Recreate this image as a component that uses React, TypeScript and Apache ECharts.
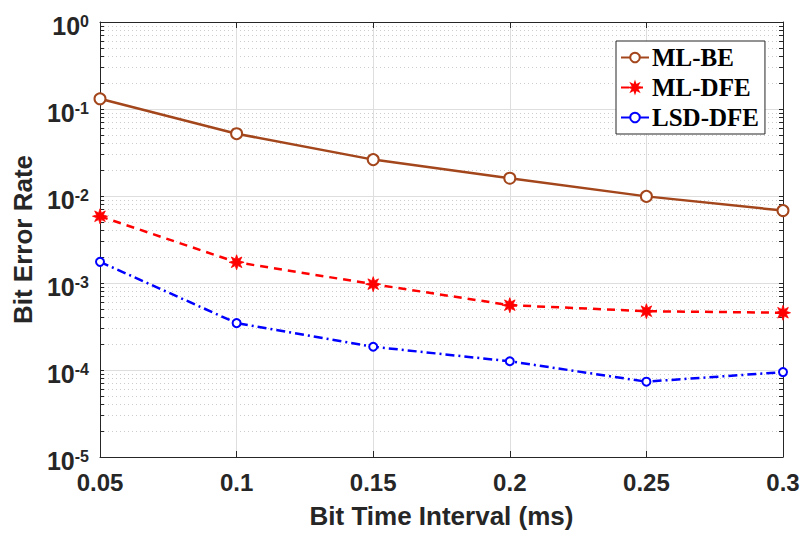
import React, { useEffect, useRef } from "react";
import * as echarts from "echarts";

const xValues = [0.05, 0.1, 0.15, 0.2, 0.25, 0.3];
const mlBE = [0.131, 0.052, 0.0262, 0.016, 0.0099, 0.0068];
const mlDFE = [0.00585, 0.00173, 0.00097, 0.000556, 0.000474, 0.000455];
const lsdDFE = [0.00175, 0.000346, 0.000185, 0.000126, 0.0000734, 0.0000946];

const seriesNames = ["ML-BE", "ML-DFE", "LSD-DFE"];
const majorTicks = [1e-5, 1e-4, 1e-3, 1e-2, 1e-1, 1];
const minorMultipliers = [2, 3, 4, 5, 6, 7, 8, 9];
const minorDecades = [1e-5, 1e-4, 1e-3, 1e-2, 1e-1];

const minorTicks: number[] = [];
minorDecades.forEach((d) => minorMultipliers.forEach((m) => minorTicks.push(Number((m * d).toPrecision(6)))));
const allTicks = majorTicks.concat(minorTicks);

function starPath(n: number, rOut: number, rIn: number): string {
  const pts: string[] = [];
  for (let i = 0; i < n * 2; i++) {
    const r = i % 2 === 0 ? rOut : rIn;
    const a = (Math.PI * i) / n - Math.PI / 2;
    pts.push(`${(r * Math.cos(a)).toFixed(2)} ${(r * Math.sin(a)).toFixed(2)}`);
  }
  return "path://M" + pts.join(" L") + " Z";
}

const AX = "#262626";
const SANS = "Liberation Sans, Arial, sans-serif";

export default function App() {
  const ref = useRef<HTMLDivElement>(null);
  useEffect(() => {
    if (!ref.current) return;
    const chart = echarts.init(ref.current, undefined, { renderer: "svg" });
    const option: any = {
      animation: false,
      backgroundColor: "#fff",
      grid: { left: 100, right: 23, top: 22, bottom: 81, outerBoundsMode: "none" },
      legend: {
        show: true,
        orient: "vertical",
        left: 616,
        top: 41,
        data: seriesNames,
        backgroundColor: "#fff",
        borderColor: AX,
        borderWidth: 1,
        borderRadius: 0,
        padding: [4, 6, 4, 4],
        itemWidth: 28,
        itemHeight: 12,
        itemGap: 5,
        textStyle: {
          fontFamily: "Liberation Serif, Times New Roman, serif",
          fontWeight: "bold",
          fontSize: 25,
          color: "#000",
          padding: [0, 0, 0, -2],
        },
      },
      xAxis: [
        {
          type: "value",
          position: "bottom",
          min: 0.05,
          max: 0.3,
          interval: 0.05,
          name: "Bit Time Interval (ms)",
          nameLocation: "middle",
          nameGap: 46,
          nameTextStyle: { fontFamily: SANS, fontWeight: "bold", fontSize: 26, color: AX },
          axisLine: { show: true, lineStyle: { color: AX, width: 1 } },
          axisTick: { show: true, inside: true, length: 6, lineStyle: { color: AX } },
          axisLabel: {
            show: true,
            margin: 13,
            fontFamily: SANS,
            fontWeight: "bold",
            fontSize: 24,
            color: AX,
            formatter: (v: number) => String(Number(v.toFixed(2))),
          },
          splitLine: { show: true, lineStyle: { color: "#dedede", width: 1, type: "solid" } },
        },
        {
          type: "value",
          position: "top",
          min: 0.05,
          max: 0.3,
          interval: 0.05,
          axisLine: { show: true, lineStyle: { color: AX, width: 1 } },
          axisTick: { show: true, inside: true, length: 6, lineStyle: { color: AX } },
          axisLabel: { show: false },
          splitLine: { show: false },
        },
      ],
      yAxis: [
        {
          type: "log",
          logBase: 10,
          position: "left",
          min: 1e-5,
          max: 1,
          name: "Bit Error Rate",
          nameLocation: "middle",
          nameGap: 62,
          nameRotate: 90,
          nameTextStyle: { fontFamily: SANS, fontWeight: "bold", fontSize: 26, color: AX },
          axisLine: { show: true, lineStyle: { color: AX, width: 1 } },
          axisTick: { show: true, inside: true, length: 4, customValues: allTicks, lineStyle: { color: AX } },
          axisLabel: {
            show: true,
            margin: 11,
            customValues: majorTicks,
            padding: [8, 0, 0, 0],
            formatter: (v: number) => {
              const e = Math.round(Math.log10(v));
              return `{b|10}{s|${e}}`;
            },
            rich: {
              b: {
                fontFamily: SANS,
                fontWeight: "bold",
                fontSize: 25,
                lineHeight: 25,
                color: AX,
                verticalAlign: "bottom",
              },
              s: {
                fontFamily: SANS,
                fontWeight: "bold",
                fontSize: 16,
                color: AX,
                lineHeight: 16,
                verticalAlign: "top",
                padding: [0, 0, 12, 0],
              },
            },
          },
          splitLine: { show: false },
        },
        {
          type: "log",
          logBase: 10,
          position: "right",
          min: 1e-5,
          max: 1,
          axisLine: { show: true, lineStyle: { color: AX, width: 1 } },
          axisTick: { show: true, inside: true, length: 4, customValues: allTicks, lineStyle: { color: AX } },
          axisLabel: { show: false },
          splitLine: { show: true, lineStyle: { color: "#cccccc", width: 1, type: [1, 3] } },
        },
        {
          type: "log",
          logBase: 10,
          position: "left",
          min: 1e-5,
          max: 1,
          axisLine: { show: false },
          axisTick: { show: false, customValues: majorTicks },
          axisLabel: { show: false },
          splitLine: { show: true, lineStyle: { color: "#dedede", width: 1, type: "solid" } },
        },
      ],
      series: [
        {
          name: seriesNames[0],
          type: "line",
          xAxisIndex: 0,
          yAxisIndex: 0,
          data: xValues.map((x, i) => [x, mlBE[i]]),
          color: "#A3461C",
          lineStyle: { color: "#A3461C", width: 2.5, type: "solid" },
          symbol: "emptyCircle",
          symbolSize: 11,
          itemStyle: { color: "#A3461C", borderColor: "#A3461C", borderWidth: 2 },
          z: 5,
        },
        {
          name: seriesNames[1],
          type: "line",
          xAxisIndex: 0,
          yAxisIndex: 0,
          data: xValues.map((x, i) => [x, mlDFE[i]]),
          color: "#FF0000",
          lineStyle: { color: "#FF0000", width: 2.5, type: [8, 6] },
          symbol: starPath(8, 10, 4.8),
          symbolSize: 15,
          symbolKeepAspect: true,
          itemStyle: { color: "#FF0000", borderColor: "#FF0000", borderWidth: 0.8 },
          z: 4,
        },
        {
          name: seriesNames[2],
          type: "line",
          xAxisIndex: 0,
          yAxisIndex: 0,
          data: xValues.map((x, i) => [x, lsdDFE[i]]),
          color: "#0000FF",
          lineStyle: { color: "#0000FF", width: 2.5, type: [9, 4, 2, 4] },
          symbol: "emptyCircle",
          symbolSize: 8,
          itemStyle: { color: "#0000FF", borderColor: "#0000FF", borderWidth: 2.5 },
          z: 3,
        },
      ],
    };
    chart.setOption(option);
    return () => chart.dispose();
  }, []);
  return (
    <div
      ref={ref}
      style={{ position: "absolute", left: 0, top: 0, width: 806, height: 538, background: "#fff" }}
    />
  );
}
